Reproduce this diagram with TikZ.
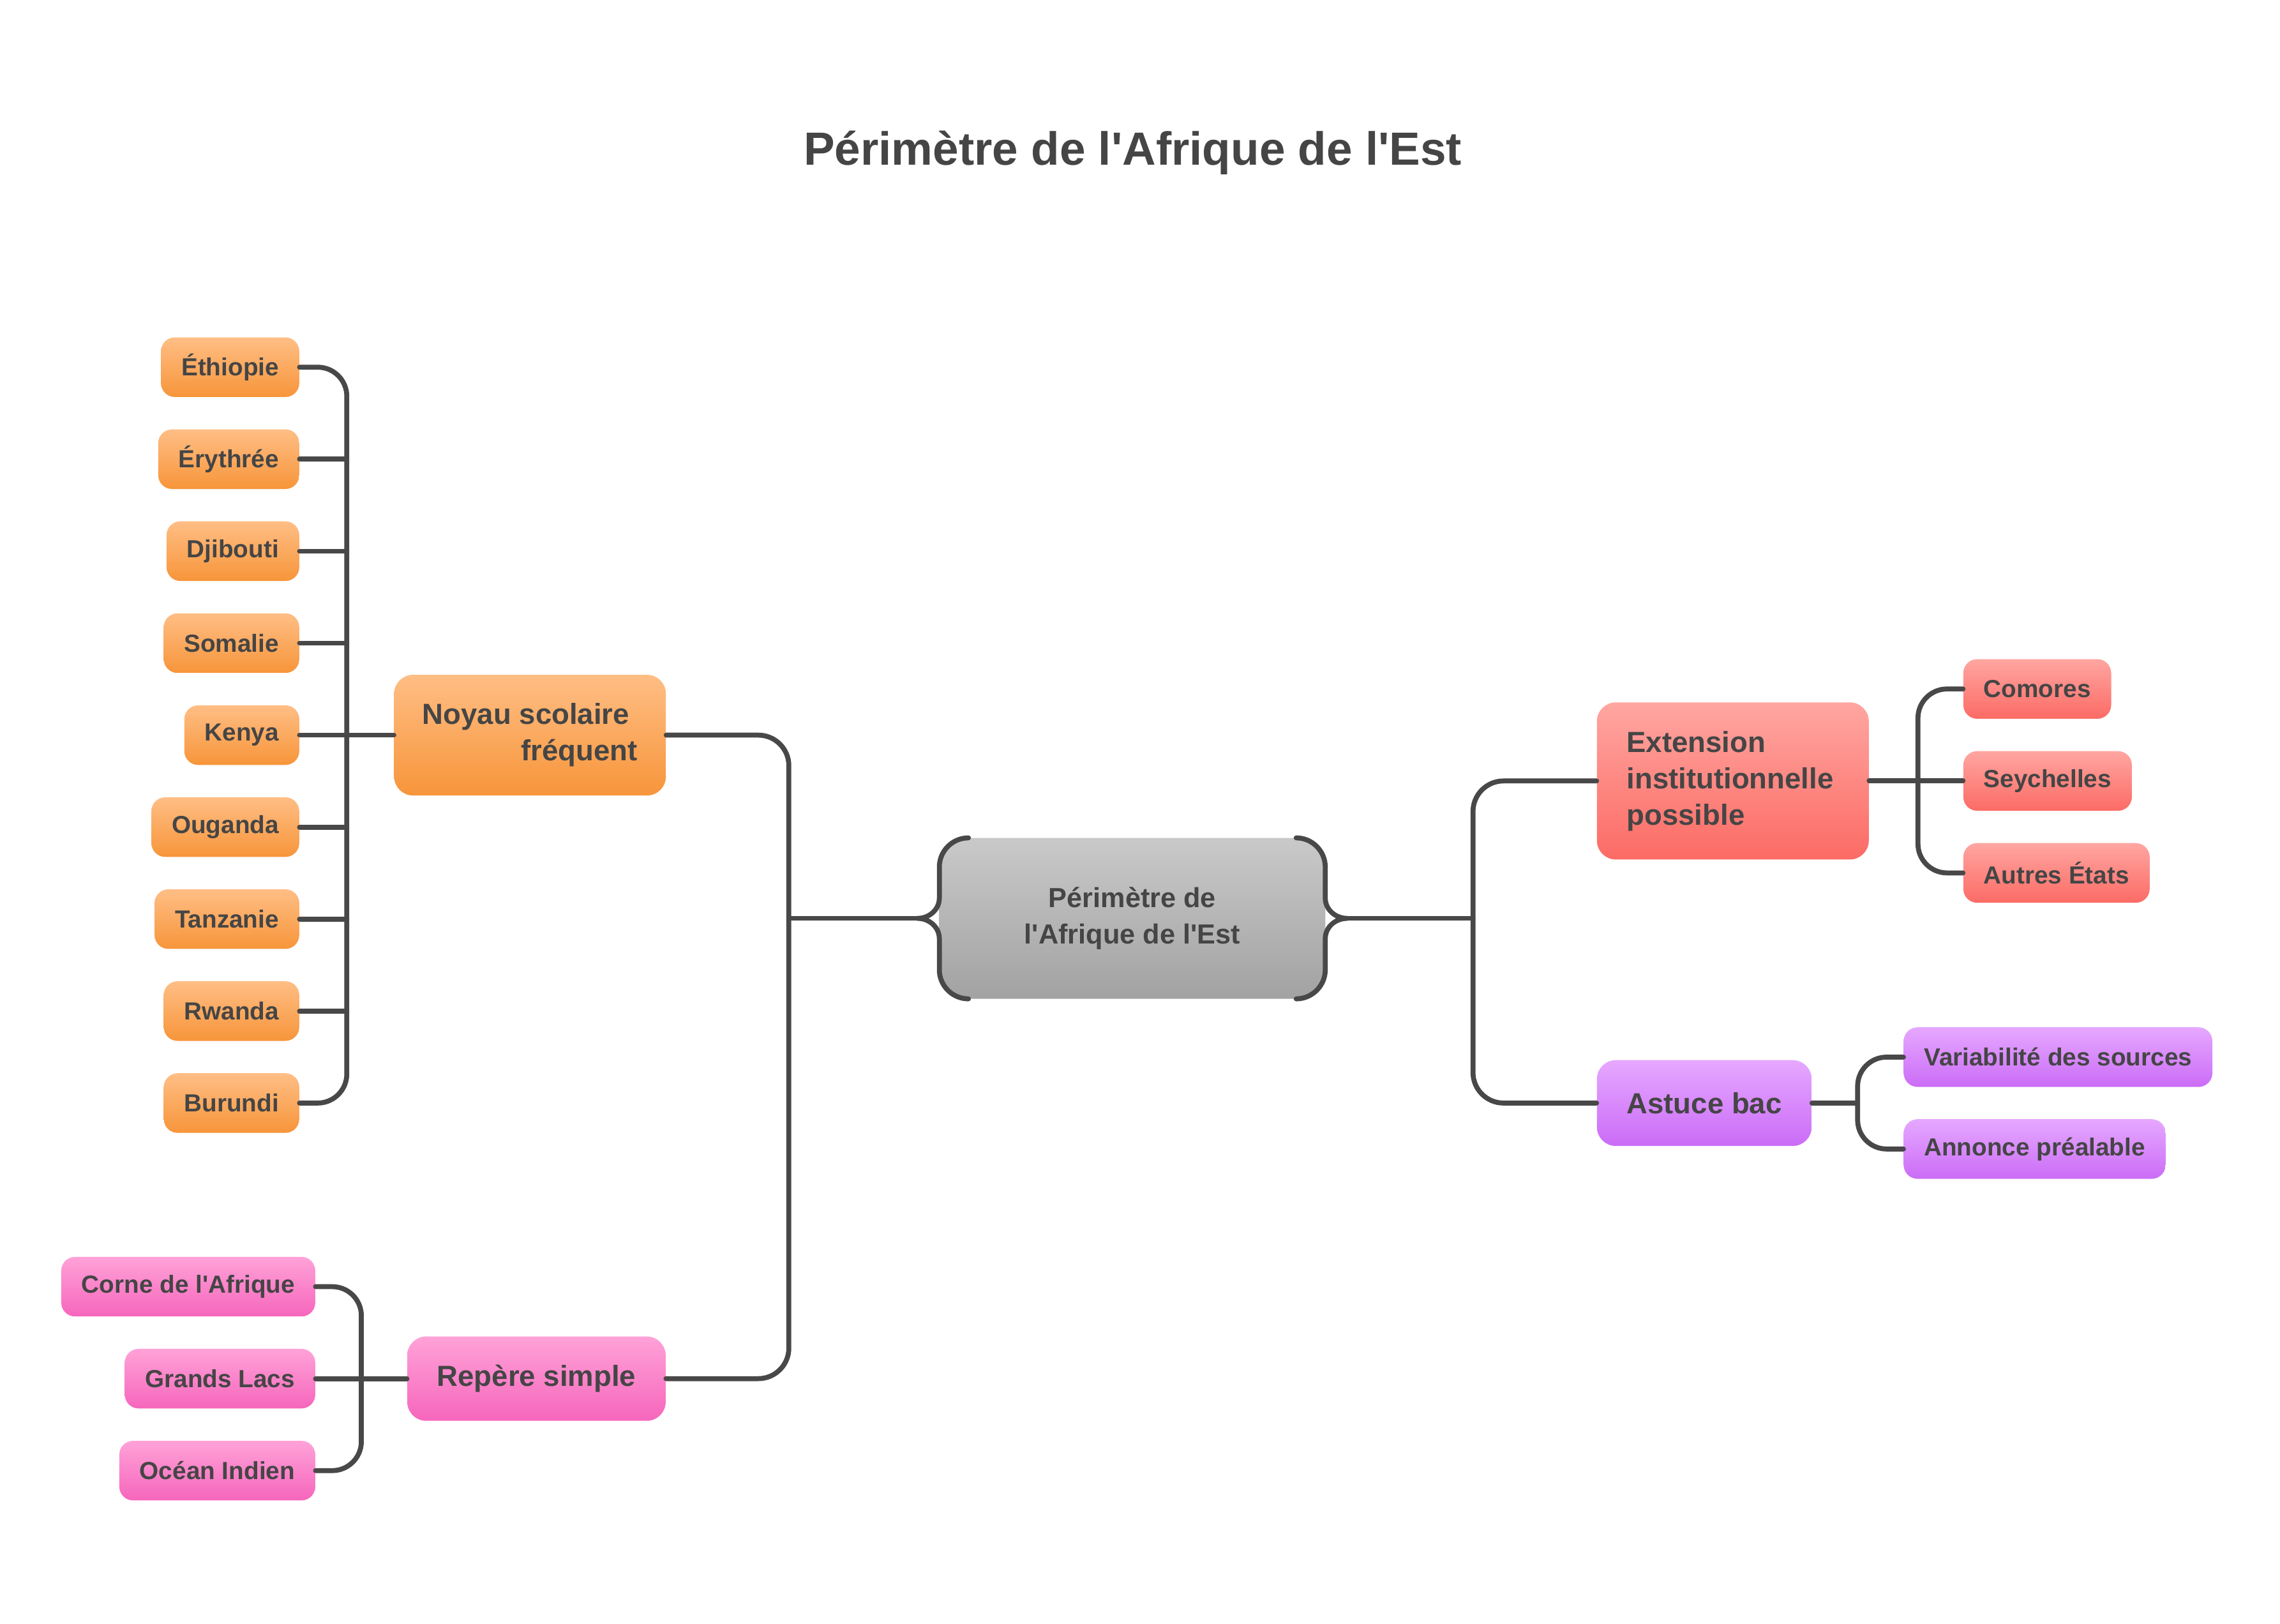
\documentclass[tikz,border=0pt]{standalone}
\usepackage{fontspec}
\setmainfont{Liberation Sans}[Ligatures=TeXOff]
\usetikzlibrary{calc}
\definecolor{txt}{HTML}{454545}
\definecolor{lin}{HTML}{484848}
\definecolor{orT}{HTML}{FFBE85}
\definecolor{orB}{HTML}{F7953A}
\definecolor{reT}{HTML}{FFA6A1}
\definecolor{reB}{HTML}{FC6B65}
\definecolor{piT}{HTML}{FFA2D8}
\definecolor{piB}{HTML}{F666BC}
\definecolor{puT}{HTML}{E6A8FF}
\definecolor{puB}{HTML}{CB6CF7}
\definecolor{grT}{HTML}{C9C9C9}
\definecolor{grB}{HTML}{A2A2A2}
\begin{document}
\begin{tikzpicture}[x=1pt,y=-1pt,
  conn/.style={draw=lin, line width=3.4pt, line cap=round, line join=round},
  leaf/.style={rectangle, rounded corners=9.5pt, minimum height=41pt, inner xsep=14pt, inner ysep=0pt, text=txt, font=\fontsize{17}{20}\selectfont\bfseries},
  oleaf/.style={leaf, top color=orT, bottom color=orB, anchor=east},
  pleaf/.style={leaf, top color=piT, bottom color=piB, anchor=east},
  rleaf/.style={leaf, top color=reT, bottom color=reB, anchor=west},
  uleaf/.style={leaf, top color=puT, bottom color=puB, anchor=west},
  major/.style={rectangle, rounded corners=13pt, inner xsep=20.5pt, inner ysep=0pt, text=txt, font=\fontsize{20}{25}\selectfont\bfseries},
]
\useasboundingbox[fill=white] (0,0) rectangle (1568,1116.7);

% title
\node[text=txt, font=\fontsize{32}{38}\selectfont\bfseries] (title) at (779,105) {Périmètre de l'Afrique de l'Est};

% central node
\node[rectangle, rounded corners=20pt, minimum width=265.4pt, minimum height=110.7pt, top color=grT, bottom color=grB, text=txt, align=center, font=\fontsize{19}{25}\selectfont\bfseries] (ctr) at (778.7,631.5) {Périmètre de\\l'Afrique de l'Est};
\coordinate (ctrL) at (631,631.5);
\coordinate (ctrR) at (926.4,631.5);
\draw[conn] (666,576.15) .. controls (655,576.15) and (646,585.15) .. (646,596.15) -- (646,617.5)
  .. controls (646,625.5) and (639,631.5) .. (ctrL)
  .. controls (639,631.5) and (646,637.5) .. (646,645.5) -- (646,666.85)
  .. controls (646,677.85) and (655,686.85) .. (666,686.85);
\draw[conn] (891.4,576.15) .. controls (902.4,576.15) and (911.4,585.15) .. (911.4,596.15) -- (911.4,617.5)
  .. controls (911.4,625.5) and (918.4,631.5) .. (ctrR)
  .. controls (918.4,631.5) and (911.4,637.5) .. (911.4,645.5) -- (911.4,666.85)
  .. controls (911.4,677.85) and (902.4,686.85) .. (891.4,686.85);

% left main branches
\node[major, top color=orT, bottom color=orB, minimum height=83pt, inner xsep=19.5pt, align=right] (noy) at (364.5,505.5) {Noyau scolaire\kern5.6pt\\fréquent};
\node[major, top color=piT, bottom color=piB, minimum height=58pt, anchor=east] (rep) at (458,948) {Repère simple};

% right main branches
\node[major, top color=reT, bottom color=reB, minimum height=108pt, text width=146pt, align=left, anchor=west] (ext) at (1098,537) {Extension\\institutionnelle\\possible};
\node[major, top color=puT, bottom color=puB, minimum height=59pt, anchor=west] (ast) at (1098,758.5) {Astuce bac};

% orange leaves
\node[oleaf] (eth) at (206,252.5) {Éthiopie};
\node[oleaf] (ery) at (206,315.75) {Érythrée};
\node[oleaf] (dji) at (206,379) {Djibouti};
\node[oleaf] (som) at (206,442.25) {Somalie};
\node[oleaf] (ken) at (206,505.5) {Kenya};
\node[oleaf] (oug) at (206,568.75) {Ouganda};
\node[oleaf] (tan) at (206,632) {Tanzanie};
\node[oleaf] (rwa) at (206,695.25) {Rwanda};
\node[oleaf] (bur) at (206,758.5) {Burundi};

% pink leaves
\node[pleaf] (cor) at (217,884.75) {Corne de l'Afrique};
\node[pleaf] (gra) at (217,948) {Grands Lacs};
\node[pleaf] (oce) at (217,1011.25) {Océan Indien};

% red leaves
\node[rleaf] (com) at (1350,473.75) {Comores};
\node[rleaf] (sey) at (1350,537) {Seychelles};
\node[rleaf] (aut) at (1350,600.25) {Autres États};

% purple leaves
\node[uleaf] (var) at (1309,726.9) {Variabilité des sources};
\node[uleaf] (ann) at (1309,790.1) {Annonce préalable};

% trunk coordinates
\coordinate (ot) at (238.5,632);
\coordinate (pt) at (248.5,948);
\coordinate (mlt) at (542.5,632);
\coordinate (mrt) at (1013,632);
\coordinate (rt) at (1319,537);
\coordinate (ut) at (1277.5,758.5);

% main connectors
\draw[conn] (ctrL) -- (ctrL -| mlt);
\draw[conn, rounded corners=21pt] (noy.east) -| (rep.east -| mlt) -- (rep.east);
\draw[conn] (ctrR) -- (ctrR -| mrt);
\draw[conn, rounded corners=21pt] (ext.west) -| (ast.west -| mrt) -- (ast.west);

% orange connectors
\draw[conn, rounded corners=20pt] (eth.east) -| (bur.east -| ot) -- (bur.east);
\draw[conn] (ery.east) -- (ery.east -| ot);
\draw[conn] (dji.east) -- (dji.east -| ot);
\draw[conn] (som.east) -- (som.east -| ot);
\draw[conn] (ken.east) -- (noy.west);
\draw[conn] (oug.east) -- (oug.east -| ot);
\draw[conn] (tan.east) -- (tan.east -| ot);
\draw[conn] (rwa.east) -- (rwa.east -| ot);

% pink connectors
\draw[conn, rounded corners=20pt] (cor.east) -| (oce.east -| pt) -- (oce.east);
\draw[conn] (gra.east) -- (rep.west);

% red connectors
\draw[conn, rounded corners=20pt] (com.west) -| (aut.west -| rt) -- (aut.west);
\draw[conn] (ext.east) -- (sey.west);

% purple connectors
\draw[conn, rounded corners=20pt] (var.west) -| (ann.west -| ut) -- (ann.west);
\draw[conn] (ast.east) -- (ast.east -| ut);
\end{tikzpicture}
\end{document}
